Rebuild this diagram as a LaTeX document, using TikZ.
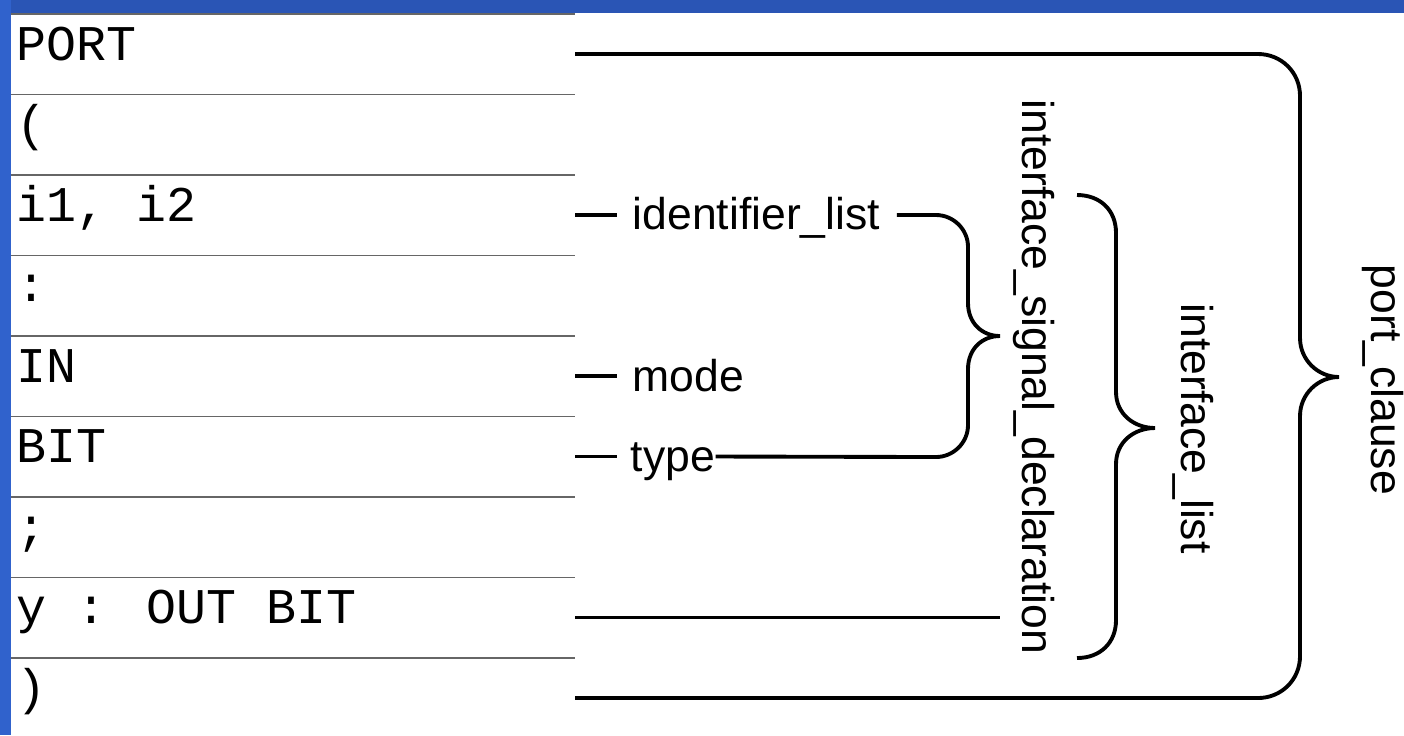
\documentclass[tikz,border=0pt]{standalone}
\usepackage{fontspec}
\setmainfont{Liberation Sans}
\newfontfamily\codefont{Liberation Mono}
\usepackage{tikz}
\usetikzlibrary{calc}

\definecolor{bandtop}{RGB}{42,85,181}
\definecolor{bandleft}{RGB}{48,98,204}

\begin{document}
\begin{tikzpicture}[x=0.01cm, y=-0.01cm,
  code/.style={font=\codefont\fontsize{14.2}{16}\selectfont, anchor=base west, inner sep=0pt},
  term/.style={font=\fontsize{12.66}{15}\selectfont, anchor=base west, inner sep=0pt},
  vterm/.style={term, rotate=-90},
  conn/.style={line width=1.1pt},
  sep/.style={line width=0.5pt, black!60}]

% === Parameters ===
\pgfmathsetmacro{\rowh}{80.5}    % Row height
\pgfmathsetmacro{\rowtop}{14}    % First separator
\pgfmathsetmacro{\colend}{575}   % Right end of the code column

% === Drawing region ===
\useasboundingbox (0,0) rectangle (1404,735);
\fill[white] (0,0) rectangle (1404,735);

% Blue frame
\fill[bandtop] (0,0) rectangle (1404,13);
\fill[bandleft] (0,0) rectangle (11,735);

% === Code column ===
\foreach \k in {0,...,8}
  \draw[sep] (11, {\rowtop+\k*\rowh}) -- (\colend, {\rowtop+\k*\rowh});

\foreach \txt [count=\k from 0] in {{PORT},{(},{i1, i2},{:},{IN},{BIT},{;},{y : OUT BIT},{)}} {
  \node[code] (row\k) at (16, {\rowtop+46+\k*\rowh}) {\txt};
  \coordinate (end\k) at (\colend, {\rowtop+40+\k*\rowh});
}

% === Coordinates ===
\coordinate (cusp1) at (1000,336);  % interface_signal_declaration
\coordinate (cusp2) at (1155,428);  % interface_list
\coordinate (cusp3) at (1339,377);  % port_clause

% === Labels ===
\node[term] (idl) at (632, 229) {identifier\_list};
\node[term] (mde) at (632, 391) {mode};
\node[term] (typ) at (630, 471) {type};

\node[vterm] (isd) at (1022, 99) {interface\_signal\_declaration};
\node[vterm] (ifl) at (1181, 303) {interface\_list};
\node[vterm] (pcl) at (1371, 264) {port\_clause};

% Dashes into the labels
\draw[conn] (end2) -- ($(idl.west |- end2)+(-15,0)$);
\draw[conn] (end4) -- ($(mde.west |- end4)+(-15,0)$);
\draw[conn] (end5) -- ($(typ.west |- end5)+(-13,0)$);

% Brace of interface_signal_declaration
\draw[conn] ($(idl.east |- end2)+(16,0)$) -- (936,215)
  .. controls (953,215) and (968,229) .. (968,247) -- (968,303)
  .. controls (968,323) and (982,336) .. (cusp1)
  .. controls (982,336) and (968,349) .. (968,369) -- (968,425)
  .. controls (968,443) and (953,457) .. (936,457) -- (typ.east |- end5);

% Second declaration
\draw[conn] (end7) -- (cusp1 |- end7);

% Brace of interface_list
\draw[conn] (1077,195)
  .. controls (1100,195) and (1116,210) .. (1116,233) -- (1116,392)
  .. controls (1116,414) and (1134,428) .. (cusp2)
  .. controls (1134,428) and (1116,442) .. (1116,464) -- (1116,620)
  .. controls (1116,643) and (1100,658) .. (1077,658);

% Brace of port_clause
\draw[conn] (end0) -- (1258,54)
  .. controls (1281,54) and (1300,72) .. (1300,96) -- (1300,338)
  .. controls (1300,360) and (1318,377) .. (cusp3)
  .. controls (1318,377) and (1300,394) .. (1300,416) -- (1300,656)
  .. controls (1300,680) and (1281,698) .. (1258,698) -- (end8);

\end{tikzpicture}
\end{document}
